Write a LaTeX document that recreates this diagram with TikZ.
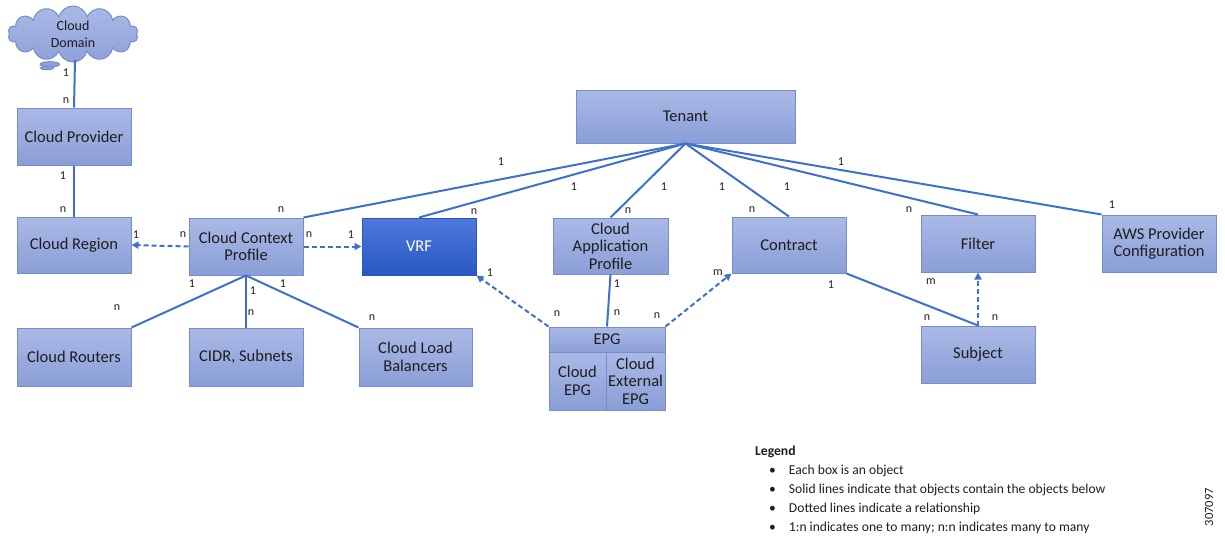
\documentclass[tikz,border=0pt]{standalone}
\usepackage{fontspec}
\setmainfont{Carlito}
\usetikzlibrary{arrows.meta,shapes.symbols,shapes.callouts,calc}
\definecolor{boxtop}{RGB}{170,185,230}
\definecolor{boxbot}{RGB}{138,158,215}
\definecolor{boxedge}{RGB}{118,140,205}
\definecolor{linkc}{RGB}{62,112,205}
\definecolor{vrftop}{RGB}{80,120,218}
\definecolor{vrfbot}{RGB}{40,88,196}
\definecolor{txt}{RGB}{30,30,30}
\tikzset{
  objbox/.style={draw=boxedge, line width=1pt, top color=boxtop, bottom color=boxbot,
    minimum width=114pt, minimum height=57pt, align=center, inner sep=1pt,
    text=txt, font=\fontsize{16.5}{17.5}\selectfont},
  vrfbox/.style={objbox, draw=vrfbot, top color=vrftop, bottom color=vrfbot, text=white},
  solidlink/.style={draw=linkc, line width=2pt},
  dashlink/.style={draw=linkc, line width=2pt, dash pattern=on 5pt off 3pt,
    -{Triangle[length=7pt,width=7pt]}},
  card/.style={font=\fontsize{12}{13}\selectfont, text=txt, inner sep=0pt},
}
\begin{document}
\begin{tikzpicture}[x=1pt,y=-1pt]
\useasboundingbox (0,0) rectangle (1225,535);
% cloud
\node[cloud callout, cloud puffs=14, aspect=2.4, draw=boxedge, line width=1pt,
  top color=boxtop, bottom color=boxbot, minimum width=130pt, minimum height=56pt,
  callout absolute pointer={(47,68)}, align=center, text=txt, inner sep=0pt,
  font=\fontsize{14}{17}\selectfont] (cd) at (73,34) {Cloud\\Domain};
\coordinate (cdbot) at (75,60);
% boxes
\node[objbox] (prov) at (74,136.5) {Cloud Provider};
\node[objbox, minimum height=56pt] (region) at (74,245) {Cloud Region};
\node[objbox] (ccp) at (246,246.5) {Cloud Context\\Profile};
\node[vrfbox] (vrf) at (419,246.5) {VRF};
\node[objbox, minimum height=58pt] (routers) at (74,357) {Cloud Routers};
\node[objbox, minimum height=58pt] (cidr) at (246,357) {CIDR, Subnets};
\node[objbox, minimum height=58pt, minimum width=113pt] (clb) at (415.5,357) {Cloud Load\\Balancers};
\node[objbox, minimum width=219pt, minimum height=53pt] (tenant) at (685.5,116.5) {Tenant};
\node[objbox, minimum width=115pt, minimum height=56pt] (cap) at (610.5,246) {Cloud\\Application\\Profile};
\node[objbox, minimum height=56pt] (contract) at (789,245) {Contract};
\node[objbox] (filter) at (978,243.5) {Filter};
\node[objbox] (aws) at (1159,243.5) {AWS Provider\\Configuration};
\node[objbox] (subject) at (978,354.5) {Subject};
\node[objbox, minimum width=116pt, minimum height=25pt] (epg) at (607,339.5) {EPG};
\node[objbox, minimum width=57pt, minimum height=58pt] (cepg) at (577.5,381) {Cloud\\EPG};
\node[objbox, minimum width=59pt, minimum height=58pt] (cext) at (635.5,381) {Cloud\\External\\EPG};
% solid links
\draw[solidlink] (cdbot) -- (prov.north);
\draw[solidlink] (prov.south) -- (region.north);
\draw[solidlink] (tenant.south) -- (ccp.north east);
\draw[solidlink] (tenant.south) -- (vrf.north);
\draw[solidlink] (tenant.south) -- (cap.north);
\draw[solidlink] (tenant.south) -- (contract.north);
\draw[solidlink] (tenant.south) -- (filter.north);
\draw[solidlink] (tenant.south) -- (aws.north west);
\draw[solidlink] (ccp.south) -- (routers.north east);
\draw[solidlink] (ccp.south) -- (cidr.north);
\draw[solidlink] (ccp.south) -- (clb.north west);
\draw[solidlink] (cap.south) -- (epg.north);
\draw[solidlink] (contract.south east) -- (subject.north);
% dashed links
\draw[dashlink] (ccp.west) -- (region.east);
\draw[dashlink] (ccp.east) -- (vrf.west);
\draw[dashlink] (epg.north west) -- (vrf.south east);
\draw[dashlink] (epg.north east) -- (contract.south west);
\draw[dashlink] (subject.north) -- (filter.south);
% cardinalities
\node[card] (c1) at (66,73) {1};
\node[card] (c2) at (66,101) {n};
\node[card] (c3) at (63,176) {1};
\node[card] (c4) at (63,210) {n};
\node[card] (c5) at (136,235) {1};
\node[card] (c6) at (183,235) {n};
\node[card] (c7) at (309,235) {n};
\node[card] (c8) at (351,235) {1};
\node[card] (c9) at (192,284) {1};
\node[card] (c10) at (253,291) {1};
\node[card] (c11) at (283,284) {1};
\node[card] (c12) at (117,308) {n};
\node[card] (c13) at (251,313) {n};
\node[card] (c14) at (372,318) {n};
\node[card] (c15) at (501,162) {1};
\node[card] (c16) at (281,210) {n};
\node[card] (c17) at (574,187) {1};
\node[card] (c18) at (474,212) {n};
\node[card] (c19) at (664,187) {1};
\node[card] (c20) at (628,211) {n};
\node[card] (c21) at (722,187) {1};
\node[card] (c22) at (752,210) {n};
\node[card] (c23) at (787,187) {1};
\node[card] (c24) at (909,210) {n};
\node[card] (c25) at (841,162) {1};
\node[card] (c26) at (1112,205) {1};
\node[card] (c27) at (490,273) {1};
\node[card] (c28) at (557,314) {n};
\node[card] (c29) at (617,284) {1};
\node[card] (c30) at (617,313) {n};
\node[card] (c31) at (657,316) {n};
\node[card] (c32) at (718,273) {m};
\node[card] (c33) at (831,285) {1};
\node[card] (c34) at (927,318) {n};
\node[card] (c35) at (931,282) {m};
\node[card] (c36) at (995,318) {n};
% legend
\node[anchor=north west, align=left, text=txt, inner sep=0pt,
  font=\fontsize{13.6}{19}\selectfont] (legend) at (755,446)
  {\textbf{Legend}\\
   \hspace*{14pt}\textbullet\hspace{13pt}Each box is an object\\
   \hspace*{14pt}\textbullet\hspace{13pt}Solid lines indicate that objects contain the objects below\\
   \hspace*{14pt}\textbullet\hspace{13pt}Dotted lines indicate a relationship\\
   \hspace*{14pt}\textbullet\hspace{13pt}1:n indicates one to many; n:n indicates many to many};
\node[rotate=90, text=txt, inner sep=0pt, font=\fontsize{12.5}{12.5}\selectfont] (fig) at (1209,507) {307097};
\end{tikzpicture}
\end{document}
